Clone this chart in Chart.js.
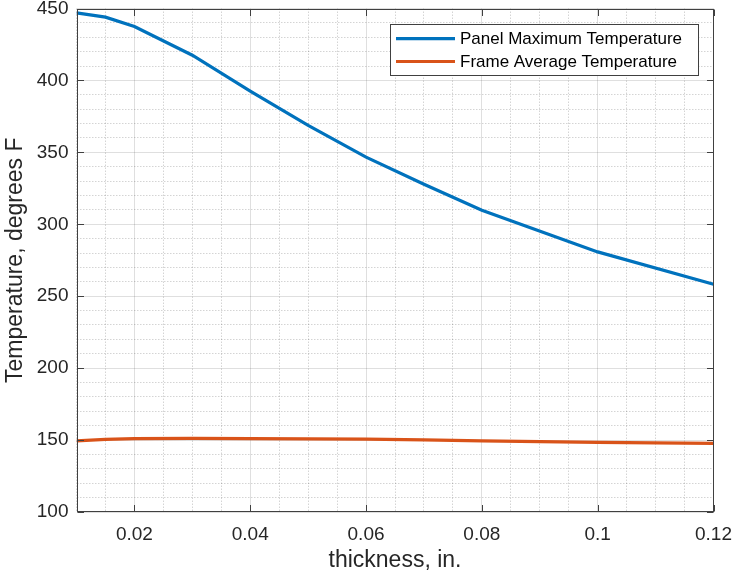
<!DOCTYPE html>
<html>
<head>
<meta charset="utf-8">
<script src="https://cdn.jsdelivr.net/npm/chart.js@4.4.0/dist/chart.umd.min.js"></script>
<style>
  body { margin: 0; background: #fff; }
  canvas { display: block; }
</style>
</head>
<body>
<canvas id="chart" width="736" height="573"></canvas>
<script>
// values
const thickness = [0.01, 0.015, 0.02, 0.03, 0.04, 0.05, 0.06, 0.07, 0.08, 0.1, 0.12];
const panelMaxTemp = [447, 444, 437.5, 417.5, 392.6, 368.8, 346.7, 327.8, 309.7, 280.8, 258.3];
const frameAvgTemp = [149.5, 150.5, 151, 151.2, 151, 150.8, 150.7, 150.2, 149.5, 148.4, 147.7];

const seriesNames = ['Panel Maximum Temperature', 'Frame Average Temperature'];
const seriesColors = ['#0072BD', '#D95319'];

const xTickValues = [0.02, 0.04, 0.06, 0.08, 0.1, 0.12];
const xTickLabels = ['0.02', '0.04', '0.06', '0.08', '0.1', '0.12'];
const yTickValues = [100, 150, 200, 250, 300, 350, 400, 450];
const yTickLabels = ['100', '150', '200', '250', '300', '350', '400', '450'];

const xMin = 0.01, xMax = 0.12, xMinorStep = 0.005;
const yMin = 100, yMax = 450, yMinorStep = 10;

const textColor = '#262626';
Chart.defaults.font.family = '"Liberation Sans", Arial, sans-serif';

// grid positions (major + minor), like MATLAB's minor grid
const xGrid = [];
for (let i = 0; xMin + i * xMinorStep <= xMax + 1e-9; i++) {
    xGrid.push(Math.round((xMin + i * xMinorStep) * 1000) / 1000);
}
const yGrid = [];
for (let v = yMin; v <= yMax; v += yMinorStep) yGrid.push(v);

function labelFor(value, values, labels) {
    const i = values.findIndex(v => Math.abs(v - value) < 1e-9);
    return i < 0 ? '' : labels[i];
}

function toPoints(xs, ys) {
    return xs.map((x, i) => ({ x: x, y: ys[i] }));
}

const majorGrid = 'rgba(38,38,38,0.15)';
const minorGrid = 'rgba(38,38,38,0.2)';

// box, inner tick marks and legend drawn the MATLAB way
const matlabAxes = {
    id: 'matlabAxes',
    afterDatasetsDraw(chart) {
        const { ctx, chartArea: a, scales } = chart;
        ctx.save();
        ctx.strokeStyle = '#404040';
        ctx.lineWidth = 1;
        const L = Math.round(a.left) + 0.5, R = Math.round(a.right) - 0.5;
        const T = Math.round(a.top) + 0.5, B = Math.round(a.bottom) - 0.5;
        ctx.strokeRect(L, T, R - L, B - T);
        const len = 6.5;
        ctx.beginPath();
        xTickValues.forEach(v => {
            const px = Math.round(scales.x.getPixelForValue(v)) + 0.5;
            ctx.moveTo(px, B); ctx.lineTo(px, B - len);
            ctx.moveTo(px, T); ctx.lineTo(px, T + len);
        });
        yTickValues.forEach(v => {
            const py = Math.round(scales.y.getPixelForValue(v)) + 0.5;
            ctx.moveTo(L, py); ctx.lineTo(L + len, py);
            ctx.moveTo(R, py); ctx.lineTo(R - len, py);
        });
        ctx.stroke();
        ctx.restore();
    },
    afterDraw(chart) {
        const ctx = chart.ctx;
        const box = { x: 390.5, y: 24.5, w: 308, h: 51 };
        const rows = [38.7, 61.5];
        ctx.save();
        ctx.fillStyle = '#fff';
        ctx.fillRect(box.x, box.y, box.w, box.h);
        ctx.strokeStyle = '#404040';
        ctx.lineWidth = 1;
        ctx.strokeRect(box.x, box.y, box.w, box.h);
        ctx.font = '17px "Liberation Sans", Arial, sans-serif';
        ctx.textBaseline = 'middle';
        chart.data.datasets.forEach((ds, i) => {
            ctx.strokeStyle = ds.borderColor;
            ctx.lineWidth = 3.2;
            ctx.beginPath();
            ctx.moveTo(396, rows[i]);
            ctx.lineTo(455, rows[i]);
            ctx.stroke();
            ctx.fillStyle = '#000';
            ctx.fillText(ds.label, 460, rows[i] + 0.5);
        });
        ctx.restore();
    }
};

new Chart(document.getElementById('chart'), {
    type: 'line',
    data: {
        datasets: [
            {
                label: seriesNames[0],
                data: toPoints(thickness, panelMaxTemp),
                borderColor: seriesColors[0],
                borderWidth: 3.2,
                pointRadius: 0,
                tension: 0,
                fill: false
            },
            {
                label: seriesNames[1],
                data: toPoints(thickness, frameAvgTemp),
                borderColor: seriesColors[1],
                borderWidth: 3.2,
                pointRadius: 0,
                tension: 0,
                fill: false
            }
        ]
    },
    options: {
        responsive: false,
        animation: false,
        layout: { padding: { top: 8.5, right: 22.5, left: 0, bottom: 0 } },
        plugins: {
            legend: { display: false },
            tooltip: { enabled: false }
        },
        scales: {
            x: {
                type: 'linear',
                min: xMin,
                max: xMax,
                afterBuildTicks: s => { s.ticks = xGrid.map(v => ({ value: v })); },
                afterFit: s => { s.height = 61; s.paddingLeft = 0; s.paddingRight = 0; },
                ticks: {
                    autoSkip: false,
                    maxRotation: 0,
                    padding: 11,
                    color: textColor,
                    font: { size: 19, lineHeight: 1.2 },
                    callback: v => labelFor(v, xTickValues, xTickLabels)
                },
                grid: {
                    drawTicks: false,
                    lineWidth: 1,
                    color: c => labelFor(c.tick.value, xTickValues, xTickLabels) ? majorGrid : minorGrid
                },
                border: {
                    display: false,
                    dash: c => (c.tick && labelFor(c.tick.value, xTickValues, xTickLabels)) ? [] : [1.5, 1.5]
                },
                title: {
                    display: true,
                    text: 'thickness, in.',
                    color: textColor,
                    font: { size: 23, lineHeight: 1 },
                    padding: { top: 0, bottom: 0.5 }
                }
            },
            y: {
                min: yMin,
                max: yMax,
                afterBuildTicks: s => { s.ticks = yGrid.map(v => ({ value: v })); },
                afterFit: s => { s.width = 76.5; s.paddingTop = 0; s.paddingBottom = 0; },
                ticks: {
                    autoSkip: false,
                    padding: 8,
                    color: textColor,
                    font: { size: 19, lineHeight: 1.2 },
                    callback: v => labelFor(v, yTickValues, yTickLabels)
                },
                grid: {
                    drawTicks: false,
                    lineWidth: 1,
                    color: c => labelFor(c.tick.value, yTickValues, yTickLabels) ? majorGrid : minorGrid
                },
                border: {
                    display: false,
                    dash: c => (c.tick && labelFor(c.tick.value, yTickValues, yTickLabels)) ? [] : [1.5, 1.5]
                },
                title: {
                    display: true,
                    text: 'Temperature, degrees F',
                    color: textColor,
                    font: { size: 23, lineHeight: 1 },
                    padding: { top: 4.3, bottom: 0 }
                }
            }
        }
    },
    plugins: [matlabAxes]
});
</script>
</body>
</html>
